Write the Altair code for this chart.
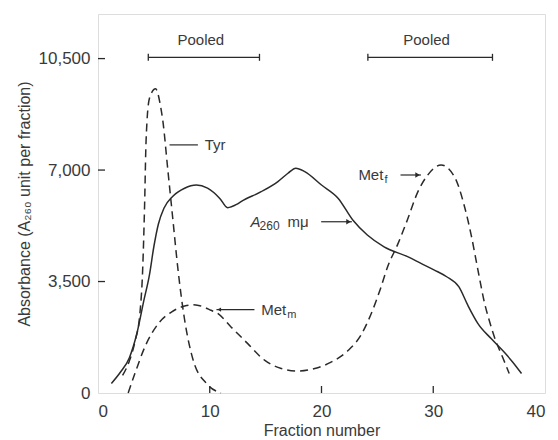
import altair as alt
import pandas as pd

# ---- data ----
a260_x = [1.2, 2.0, 2.8, 3.5, 4.1, 4.6, 5.0, 5.4, 5.9, 6.7, 7.75, 8.8, 9.8, 10.9, 11.6, 12.4,
          12.8, 14.6, 16.1, 17.0, 17.7, 18.5, 20.0, 21.5, 22.8, 24.1, 25.6, 27.7, 28.9, 30.1,
          31.2, 32.3, 33.1, 34.0, 35.2, 36.4, 37.1, 37.9]
a260_y = [300, 650, 1100, 1900, 2900, 3700, 4600, 5300, 5800, 6180, 6430, 6530, 6430, 6110, 5820, 5920,
          6010, 6320, 6640, 6900, 7060, 6950, 6530, 6110, 5430, 4960, 4590, 4280, 4070, 3860,
          3650, 3330, 2750, 2180, 1700, 1260, 975, 610]

tyr_x = [2.2, 2.8, 3.3, 3.75, 4.0, 4.17, 4.3, 4.6, 5.15, 5.6, 5.8, 6.25, 6.7, 7.15, 7.75, 8.5, 9.7, 11.0]
tyr_y = [550, 1000, 1600, 2500, 3900, 5900, 7900, 9250, 9550, 9000, 8550, 7000, 5450, 3900, 2300, 1050, 300, 0]

met_x = [2.7, 3.3, 4.2, 5.4, 6.6, 7.75, 8.5, 9.0, 10.1, 10.7, 11.9, 13.4, 14.9, 16.4, 17.9, 19.4,
         20.9, 22.4, 23.5, 24.4, 25.3, 25.9, 26.8, 27.7, 28.6, 29.5, 30.7, 31.9, 32.8, 33.4, 34.0,
         34.6, 35.0, 35.5, 36.2, 36.8]
met_y = [0, 610, 1450, 2180, 2550, 2730, 2770, 2750, 2600, 2500, 2075, 1550, 1030, 770, 690, 770,
         975, 1340, 1800, 2450, 3300, 3950, 4650, 5450, 6300, 6840, 7160, 6790, 5850, 4950, 3860,
         2810, 2290, 1730, 1130, 610]

x_ticks = [0, 10, 20, 30, 40]
y_ticks = [0, 3500, 7000, 10500]
inner_x_ticks = [10, 20, 30]
inner_y_ticks = [3500, 7000, 10500]

pooled_start = [4.5, 24.15]
pooled_end = [14.45, 35.3]
pooled_y = [10540, 10540]
pooled_label_x = [9.2, 29.4]
pooled_label_y = [11090, 11090]
pooled_text = ["Pooled", "Pooled"]

FONT = "Liberation Sans"
INK = "#2a2a2a"
TXT = "#3a3a3a"

xs = alt.Scale(domain=[0, 40], nice=False)
ys = alt.Scale(domain=[0, 11900], nice=False)

lines_df = pd.concat([
    pd.DataFrame({"x": a260_x, "y": a260_y, "s": "A260"}),
    pd.DataFrame({"x": tyr_x, "y": tyr_y, "s": "Tyr"}),
    pd.DataFrame({"x": met_x, "y": met_y, "s": "Met"}),
])

X = alt.X("x:Q", scale=xs, axis=alt.Axis(values=x_ticks, title="Fraction number", ticks=False,
                                         domain=False, grid=False, labelPadding=10, titlePadding=3,
                                         labelFontSize=17, titleFontSize=16, labelFont=FONT,
                                         titleFont=FONT, labelColor=TXT, titleColor=TXT,
                                         titleFontWeight="normal"))
Y = alt.Y("y:Q", scale=ys, axis=alt.Axis(values=y_ticks,
                                         labelExpr="replace(format(datum.value, ',.0f'), '', '')",
                                         title="Absorbance (A₂₆₀ unit per fraction)",
                                         ticks=False, domain=False, grid=False, labelPadding=8,
                                         titlePadding=6, labelFontSize=17, titleFontSize=16,
                                         labelFont=FONT, titleFont=FONT, labelColor=TXT,
                                         titleColor=TXT, titleFontWeight="normal"))

solid = alt.Chart(lines_df[lines_df.s == "A260"]).mark_line(
    color=INK, strokeWidth=1.5, interpolate="monotone").encode(x=X, y=Y)
dashed = alt.Chart(lines_df[lines_df.s != "A260"]).mark_line(
    color=INK, strokeWidth=1.5, strokeDash=[8, 5], interpolate="monotone").encode(
    x="x:Q", y="y:Q", detail="s:N")

xt = alt.Chart(pd.DataFrame({"x": inner_x_ticks})).mark_rule(color=INK, strokeWidth=1.3).encode(
    x="x:Q", y=alt.value(379), y2=alt.value(372))
yt = alt.Chart(pd.DataFrame({"y": inner_y_ticks})).mark_rule(color=INK, strokeWidth=1.3).encode(
    y="y:Q", x=alt.value(0), x2=alt.value(7))

pool_df = pd.DataFrame({"x": pooled_start, "x2": pooled_end, "y": pooled_y,
                        "lx": pooled_label_x, "ly": pooled_label_y, "t": pooled_text})
pool_line = alt.Chart(pool_df).mark_rule(color=INK, strokeWidth=1.3).encode(
    x="x:Q", x2="x2:Q", y="y:Q")
cap_df = pd.DataFrame({"x": pooled_start + pooled_end, "y": pooled_y + pooled_y})
pool_caps = alt.Chart(cap_df).mark_rule(color=INK, strokeWidth=1.3).encode(
    x="x:Q", y=alt.Y("lo:Q"), y2="hi:Q").transform_calculate(lo="datum.y - 110", hi="datum.y + 110")
pool_text = alt.Chart(pool_df).mark_text(font=FONT, fontSize=15, color=TXT).encode(
    x="lx:Q", y="ly:Q", text="t:N")

# ---- annotations ----
lab_main = pd.DataFrame({"x": [9.55, 14.6, 23.3], "y": [7790, 2620, 6845], "t": ["Tyr", "Met", "Met"]})
labels = alt.Chart(lab_main).mark_text(font=FONT, fontSize=15, color=TXT, align="left",
                                       baseline="middle").encode(x="x:Q", y="y:Q", text="t:N")
subs = alt.Chart(pd.DataFrame({"x": [14.6, 23.3], "y": [2620, 6845], "t": ["m", "f"]})).mark_text(
    font=FONT, fontSize=11, color=TXT, align="left", baseline="middle", dx=26, dy=5).encode(
    x="x:Q", y="y:Q", text="t:N")
a_lab = alt.Chart(pd.DataFrame({"x": [13.65], "y": [5377], "t": ["A"]})).mark_text(
    font=FONT, fontSize=15, fontStyle="italic", color=TXT, align="left", baseline="middle").encode(
    x="x:Q", y="y:Q", text="t:N")
a_sub = alt.Chart(pd.DataFrame({"x": [13.65], "y": [5377], "t": ["260"]})).mark_text(
    font=FONT, fontSize=12, color=TXT, align="left", baseline="middle", dx=9, dy=4).encode(
    x="x:Q", y="y:Q", text="t:N")
a_mu = alt.Chart(pd.DataFrame({"x": [13.65], "y": [5377], "t": ["mμ"]})).mark_text(
    font=FONT, fontSize=15, color=TXT, align="left", baseline="middle", dx=37).encode(
    x="x:Q", y="y:Q", text="t:N")

lead_df = pd.DataFrame({"x": [6.4, 10.6, 27.07, 19.97], "x2": [8.94, 14.0, 28.9, 22.72],
                        "y": [7790, 2620, 6845, 5377]})
leaders = alt.Chart(lead_df).mark_rule(color=INK, strokeWidth=1.2).encode(x="x:Q", x2="x2:Q", y="y:Q")
heads_r = alt.Chart(pd.DataFrame({"x": [28.6, 22.42], "y": [6845, 5377]})).mark_point(
    shape="triangle-right", filled=True, color=INK, size=28, opacity=1).encode(x="x:Q", y="y:Q")
heads_l = alt.Chart(pd.DataFrame({"x": [10.85], "y": [2620]})).mark_point(
    shape="triangle-left", filled=True, color=INK, size=18, opacity=1).encode(x="x:Q", y="y:Q")

chart = alt.layer(
    solid, dashed, xt, yt, pool_line, pool_caps, pool_text,
    labels, subs, a_lab, a_sub, a_mu, leaders, heads_r, heads_l
).properties(
    width=447, height=379,
    padding={"left": 8, "top": 6, "right": 4, "bottom": 0}
).configure_view(stroke=INK, strokeWidth=1.5).configure(background="white")

chart.save("out.html", embed_options={"renderer": "svg", "actions": False})
